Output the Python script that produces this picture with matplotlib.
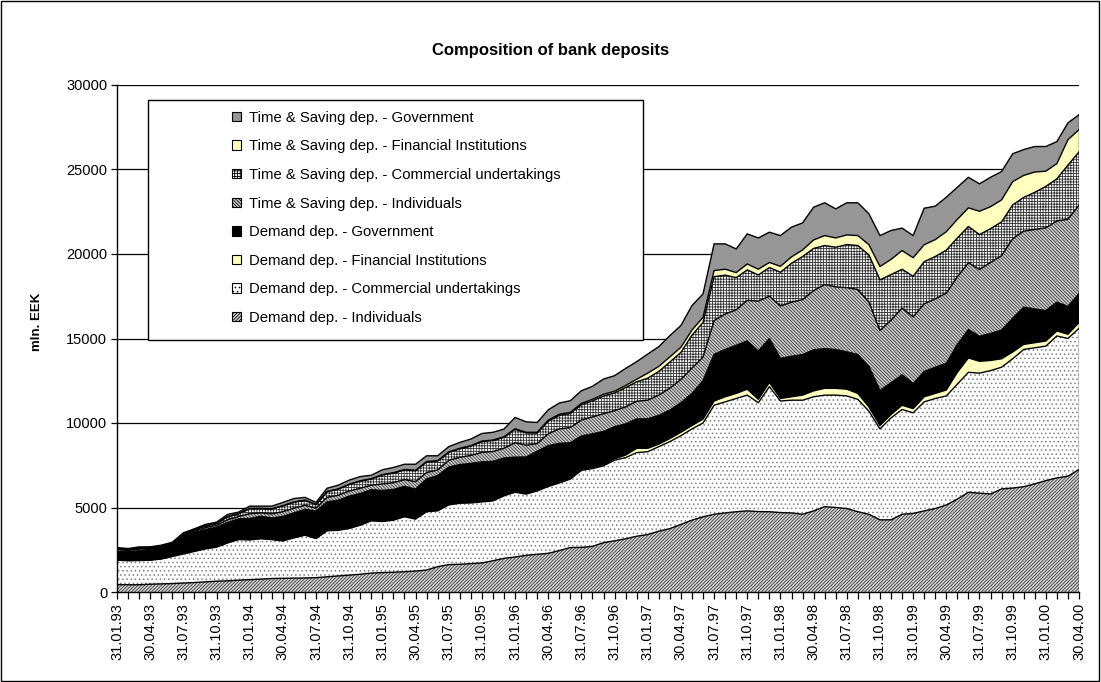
import numpy as np
import matplotlib
matplotlib.use("Agg")
import matplotlib.pyplot as plt
from matplotlib.patches import Patch, Rectangle

plt.rcParams["font.family"] = ["Liberation Sans", "DejaVu Sans"]
plt.rcParams["hatch.linewidth"] = 0.6

# ---------------------------------------------------------------- data (mln. EEK, month ends 01.93 .. 04.00)

TICK_LABELS = ["31.01.93", "30.04.93", "31.07.93", "31.10.93", "31.01.94", "30.04.94",
               "31.07.94", "31.10.94", "31.01.95", "30.04.95", "31.07.95", "31.10.95",
               "31.01.96", "30.04.96", "31.07.96", "31.10.96", "31.01.97", "30.04.97",
               "31.07.97", "31.10.97", "31.01.98", "30.04.98", "31.07.98", "31.10.98",
               "31.01.99", "30.04.99", "31.07.99", "31.10.99", "31.01.00", "30.04.00"]

DEM_IND = [440, 430, 430, 460, 480, 500, 530, 560, 600, 640,
           660, 700, 730, 760, 800, 810, 820, 830, 850, 900,
           950, 1000, 1050, 1120, 1150, 1170, 1200, 1240, 1300, 1500,
           1620, 1640, 1680, 1720, 1850, 1990, 2070, 2170, 2230, 2290,
           2450, 2630, 2640, 2700, 2920, 3030, 3150, 3300, 3400, 3600,
           3750, 4000, 4250, 4450, 4600, 4680, 4750, 4800, 4760, 4750,
           4700, 4680, 4600, 4800, 5050, 5000, 4940, 4750, 4600, 4270,
           4270, 4600, 4650, 4800, 4940, 5150, 5500, 5900, 5850, 5800,
           6100, 6150, 6230, 6400, 6590, 6750, 6850, 7250]

DEM_COM = [1440, 1420, 1430, 1420, 1470, 1600, 1720, 1840, 1950, 2010,
           2240, 2400, 2350, 2390, 2300, 2210, 2380, 2530, 2310, 2720,
           2700, 2760, 2900, 3090, 3020, 3080, 3250, 3070, 3450, 3300,
           3530, 3610, 3590, 3610, 3540, 3700, 3830, 3620, 3750, 3950,
           4000, 4050, 4560, 4600, 4550, 4770, 4800, 4950, 4900, 5000,
           5150, 5250, 5400, 5550, 6450, 6570, 6700, 6850, 6440, 7400,
           6600, 6670, 6750, 6750, 6600, 6650, 6660, 6650, 6100, 5380,
           6030, 6200, 5950, 6450, 6510, 6450, 6800, 7100, 7100, 7300,
           7200, 7650, 8120, 8050, 7960, 8400, 8150, 8350]

DEM_FIN = [20, 20, 20, 20, 20, 20, 30, 30, 30, 30,
           30, 30, 30, 30, 30, 30, 30, 30, 30, 30,
           30, 30, 30, 40, 40, 40, 40, 40, 40, 40,
           40, 40, 40, 40, 40, 40, 50, 50, 50, 50,
           50, 50, 60, 60, 60, 80, 150, 250, 200, 150,
           180, 200, 200, 230, 250, 300, 300, 350, 200, 250,
           150, 200, 300, 350, 400, 400, 400, 350, 250, 200,
           200, 250, 250, 300, 300, 350, 700, 850, 700, 600,
           500, 400, 300, 300, 300, 300, 250, 350]

DEM_GOV = [490, 520, 560, 630, 650, 680, 1050, 1100, 1120, 1150,
           1180, 1200, 1240, 1300, 1250, 1420, 1450, 1500, 1600, 1680,
           1750, 1880, 1850, 1800, 1800, 1780, 1760, 1740, 1900, 2050,
           2200, 2250, 2300, 2330, 2300, 2200, 2030, 2150, 2300, 2370,
           2300, 2100, 1970, 2000, 1970, 1900, 1850, 1740, 1750, 1700,
           1680, 1750, 1900, 2270, 2760, 2800, 2850, 2860, 2860, 2600,
           2370, 2400, 2400, 2430, 2350, 2300, 2210, 2300, 2400, 2070,
           1880, 1800, 1480, 1500, 1550, 1580, 1650, 1680, 1480, 1600,
           1700, 2000, 2200, 2000, 1800, 1700, 1650, 1700]

TS_IND = [110, 80, 100, 60, 60, 60, 70, 80, 110, 110,
          160, 140, 280, 200, 240, 280, 280, 240, 170, 270,
          290, 300, 310, 270, 380, 400, 400, 440, 380, 330,
          400, 430, 470, 560, 580, 580, 850, 700, 450, 700,
          850, 900, 950, 1000, 1050, 950, 1000, 1050, 1100, 1200,
          1300, 1380, 1500, 1400, 2000, 2100, 2100, 2400, 2950, 2500,
          3100, 3200, 3250, 3500, 3800, 3700, 3800, 3850, 3800, 3550,
          3700, 3950, 3950, 4000, 4050, 4150, 4000, 3950, 3950, 4200,
          4400, 4700, 4500, 4700, 4900, 4800, 5160, 5230]

TS_COM = [50, 40, 60, 40, 40, 40, 50, 70, 100, 100,
          180, 150, 300, 250, 290, 340, 350, 290, 200, 330,
          360, 390, 420, 360, 530, 560, 570, 640, 620, 520,
          470, 500, 550, 640, 650, 640, 790, 720, 620, 750,
          800, 830, 900, 950, 1050, 1050, 1150, 1150, 1300, 1400,
          1550, 1600, 1950, 2050, 2600, 2300, 1900, 1800, 1550, 1700,
          2000, 2300, 2550, 2500, 2300, 2350, 2550, 2600, 2800, 3000,
          2700, 2300, 2400, 2500, 2500, 2550, 2300, 2150, 2070, 2000,
          2000, 2000, 2000, 2200, 2450, 2500, 3200, 3160]

TS_FIN = [10, 10, 10, 10, 10, 10, 10, 10, 10, 10,
          20, 20, 20, 20, 20, 20, 20, 20, 20, 20,
          20, 20, 20, 20, 30, 30, 30, 30, 30, 30,
          30, 30, 30, 30, 30, 30, 40, 40, 50, 60,
          70, 70, 80, 90, 100, 100, 120, 150, 300, 300,
          300, 300, 300, 300, 360, 350, 300, 350, 340, 300,
          350, 380, 390, 500, 590, 550, 570, 590, 600, 790,
          900, 1100, 1100, 1000, 1000, 1090, 1100, 1100, 1380, 1300,
          1300, 1380, 1300, 1200, 900, 900, 1500, 1320]

TS_GOV = [70, 50, 60, 30, 40, 30, 40, 50, 80, 80,
          120, 90, 130, 130, 150, 190, 200, 160, 120, 190,
          220, 240, 250, 210, 280, 310, 310, 360, 340, 290,
          310, 350, 390, 450, 460, 460, 670, 620, 580, 610,
          660, 690, 750, 770, 900, 920, 1010, 1040, 1130, 1170,
          1260, 1290, 1450, 1390, 1580, 1500, 1400, 1780, 1850, 1790,
          1820, 1760, 1600, 1940, 1940, 1720, 1900, 1940, 1830, 1830,
          1710, 1330, 1310, 2160, 1980, 2040, 1900, 1810, 1620, 1740,
          1680, 1650, 1530, 1510, 1460, 1300, 1000, 880]

# bottom -> top: (name, values, face colour, hatch, hatch colour)
LAYERS = [
    ("Demand dep. - Individuals", DEM_IND, "#d4d4d4", "/" * 10, "#3c3c3c"),
    ("Demand dep. - Commercial undertakings", DEM_COM, "white", "....", "#808080"),
    ("Demand dep. - Financial Institutions", DEM_FIN, "#ffffc0", None, None),
    ("Demand dep. - Government", DEM_GOV, "black", None, None),
    ("Time & Saving dep. - Individuals", TS_IND, "#cfcfcf", "\\" * 10, "#3c3c3c"),
    ("Time & Saving dep. - Commercial undertakings", TS_COM, "white", "+" * 6, "#303030"),
    ("Time & Saving dep. - Financial Institutions", TS_FIN, "#ffffc0", None, None),
    ("Time & Saving dep. - Government", TS_GOV, "#969696", None, None),
]

# ---------------------------------------------------------------- figure

fig = plt.figure(figsize=(11.01, 6.82), dpi=100)
ax = fig.add_axes([117 / 1101, 1 - 592 / 682, (1079 - 117) / 1101, (592 - 85) / 682])

vals = np.vstack([v for _, v, _, _, _ in LAYERS]).astype(float)
tops = np.cumsum(vals, axis=0)
bottoms = tops - vals
x = np.arange(vals.shape[1])

ax.set_axisbelow(True)
ax.yaxis.grid(True, color="black", lw=0.9)

for (name, _, face, hatch, hc), lo, hi in zip(LAYERS, bottoms, tops):
    ax.fill_between(x, lo, hi, facecolor=face, edgecolor="none", lw=0, zorder=2)
    if hatch:
        ax.fill_between(x, lo, hi, facecolor="none", edgecolor=hc, hatch=hatch,
                        lw=0, zorder=2)
    ax.plot(x, hi, color="black", lw=1.0, zorder=3)
ax.plot([x[-1], x[-1]], [0, tops[-1, -1]], color="black", lw=1.0, zorder=3)

ax.set_xlim(x[0], x[-1])
ax.set_ylim(0, 30000)
ax.set_yticks(np.arange(0, 30001, 5000))
ax.set_yticklabels([str(v) for v in range(0, 30001, 5000)], fontsize=10.5)
ax.set_xticks(x[::3])
ax.set_xticklabels(TICK_LABELS, rotation=90, fontsize=10.5)
ax.set_xticks(x, minor=True)
ax.tick_params(axis="x", which="both", direction="out", length=5, width=0.9, pad=3)
ax.tick_params(axis="y", direction="out", length=4, width=0.9, pad=3)
for s in ("top", "right"):
    ax.spines[s].set_visible(False)
for s in ("left", "bottom"):
    ax.spines[s].set_linewidth(1.0)
    ax.spines[s].set_zorder(4)

ax.set_ylabel("mln. EEK", fontsize=9.5, fontweight="bold")
ax.yaxis.set_label_coords(-0.077, 0.533)
fig.text(0.5, 1 - 50 / 682, "Composition of bank deposits", ha="center", va="center",
         fontsize=12, fontweight="bold")

# legend box
box = Rectangle((148 / 1101, 1 - 340 / 682), (643 - 148) / 1101, (340 - 100) / 682,
                transform=fig.transFigure, facecolor="white", edgecolor="black",
                lw=1.0, zorder=10)
ax.add_patch(box)
box.set_clip_on(False)
handles = [Patch(facecolor=face, edgecolor="black", hatch=hatch, lw=0.8, label=name)
           for name, _, face, hatch, _ in LAYERS[::-1]]
leg = ax.legend(handles=handles, loc="upper left",
                bbox_to_anchor=(220 / 1101, 1 - 99 / 682), bbox_transform=fig.transFigure,
                frameon=False, fontsize=10.7, labelspacing=0.98, handlelength=0.6,
                handleheight=0.6, handletextpad=0.55, borderpad=0.3)
leg.set_zorder(11)

# chart border
fig.patches.append(Rectangle((0.001, 0.001), 0.997, 0.997, transform=fig.transFigure,
                             fill=False, edgecolor="black", lw=1.0))

fig.savefig("out.png", dpi=100)
